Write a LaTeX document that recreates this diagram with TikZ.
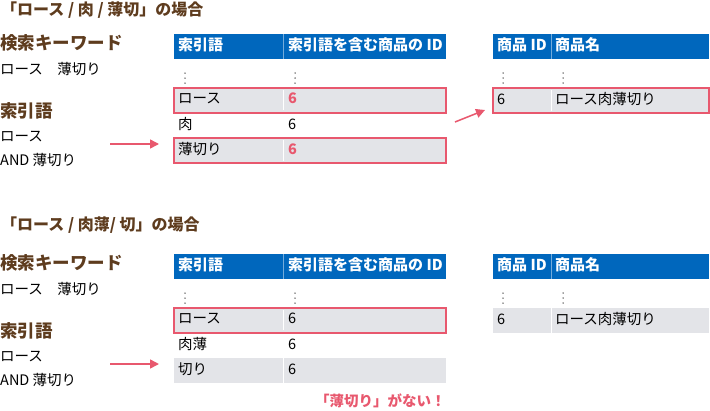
\documentclass[tikz,border=0pt]{standalone}
\usepackage{fontspec}
\setmainfont{Noto Sans CJK JP}
\usetikzlibrary{arrows.meta}

\definecolor{hbrown}{RGB}{94,60,30}
\definecolor{hblue}{RGB}{0,103,189}
\definecolor{hpink}{RGB}{232,88,110}
\definecolor{hgray}{RGB}{227,228,232}

\tikzset{
  txt/.style={anchor=west,inner sep=0pt,text height=.88em,text depth=.12em,
    font=\fontsize{14.5}{14.5}\selectfont},
  big/.style={txt,text=hbrown,font=\fontsize{17.5}{17.5}\selectfont\bfseries},
  ttl/.style={txt,text=hbrown,font=\fontsize{16}{16}\selectfont\bfseries},
  hd/.style={txt,text=white,font=\fontsize{15}{15}\selectfont\bfseries},
  num/.style={txt,text=hpink,font=\fontsize{14.5}{14.5}\selectfont\bfseries},
  cellbox/.style={anchor=north west,inner sep=0pt,outer sep=0pt,minimum height=25},
  headbox/.style={cellbox,fill=hblue},
  grayrow/.style={cellbox,fill=hgray},
  hit/.style={draw=hpink,line width=1.8pt},
  arr/.style={hpink,line width=1.5pt,-{Triangle[length=9pt,width=9pt]}},
}

\begin{document}
\begin{tikzpicture}[x=1pt,y=-1pt]
  \useasboundingbox (0,0) rectangle (710,410);

  %% case 1
  \node[ttl] (c1) at (1,12) {「ロース / 肉 / 薄切」の場合};
  \node[big] (kw1) at (0,46) {検索キーワード};
  \node[txt] (kw1a) at (0,71) {ロース　薄切り};
  \node[big] (ix1) at (0,114) {索引語};
  \node[txt] (ix1a) at (0,138) {ロース};
  \node[txt] (ix1b) at (0,162) {AND 薄切り};
  \coordinate (a1s) at (110,144);
  \coordinate (a1e) at (159,144);
  \draw[arr] (a1s) -- (a1e);

  % index table
  \node[headbox,minimum width=272] (t1h) at (174,34) {};
  \draw[hblue!55!white,line width=.8pt] (283,34) -- (283,59);
  \node[hd] (t1ha) at (178,46.5) {索引語};
  \node[hd] (t1hb) at (288,46.5) {索引語を含む商品の ID};
  \foreach \x in {185,295}
    \foreach \y in {73,78,83}
      \fill[black!75] (\x,\y) circle (.75);
  \node[grayrow,hit,minimum width=272] (t1r1) at (174,88) {};
  \node[grayrow,hit,minimum width=272] (t1r3) at (174,138) {};
  \draw[white,line width=.8pt] (283,90) -- (283,110) (283,140) -- (283,161);
  \node[txt] (t1r1a) at (178,100) {ロース};
  \node[num] (t1r1b) at (288,100) {6};
  \node[txt] (t1r2a) at (178,125.5) {肉};
  \node[txt] (t1r2b) at (288,125.5) {6};
  \node[txt] (t1r3a) at (178,150.5) {薄切り};
  \node[num] (t1r3b) at (288,150.5) {6};

  \coordinate (a2s) at (455,122);
  \coordinate (a2e) at (485,110);
  \draw[arr] (a2s) -- (a2e);

  % item table
  \node[headbox,minimum width=216] (t2h) at (493,34) {};
  \draw[hblue!55!white,line width=.8pt] (551,34) -- (551,59);
  \node[hd] (t2ha) at (497,46.5) {商品 ID};
  \node[hd] (t2hb) at (555,46.5) {商品名};
  \foreach \x in {503,563}
    \foreach \y in {73,78,83}
      \fill[black!75] (\x,\y) circle (.75);
  \node[grayrow,hit,minimum width=216] (t2r1) at (493,88) {};
  \draw[white,line width=.8pt] (551,90) -- (551,111);
  \node[txt] (t2r1a) at (497,100.5) {6};
  \node[txt] (t2r1b) at (555,100.5) {ロース肉薄切り};

  %% case 2
  \node[ttl] (c2) at (1,227) {「ロース / 肉薄/ 切」の場合};
  \node[big] (kw2) at (0,266) {検索キーワード};
  \node[txt] (kw2a) at (0,291) {ロース　薄切り};
  \node[big] (ix2) at (0,334) {索引語};
  \node[txt] (ix2a) at (0,358) {ロース};
  \node[txt] (ix2b) at (0,382) {AND 薄切り};
  \coordinate (a3s) at (110,364);
  \coordinate (a3e) at (159,364);
  \draw[arr] (a3s) -- (a3e);

  % index table
  \node[headbox,minimum width=272] (t3h) at (174,254) {};
  \draw[hblue!55!white,line width=.8pt] (283,254) -- (283,279);
  \node[hd] (t3ha) at (178,266.5) {索引語};
  \node[hd] (t3hb) at (288,266.5) {索引語を含む商品の ID};
  \foreach \x in {185,295}
    \foreach \y in {293,298,303}
      \fill[black!75] (\x,\y) circle (.75);
  \node[grayrow,hit,minimum width=272] (t3r1) at (174,308) {};
  \node[grayrow,minimum width=272] (t3r3) at (174,358) {};
  \draw[white,line width=.8pt] (283,310) -- (283,330) (283,358) -- (283,383);
  \node[txt] (t3r1a) at (178,320) {ロース};
  \node[txt] (t3r1b) at (288,320) {6};
  \node[txt] (t3r2a) at (178,345.5) {肉薄};
  \node[txt] (t3r2b) at (288,345.5) {6};
  \node[txt] (t3r3a) at (178,370.5) {切り};
  \node[txt] (t3r3b) at (288,370.5) {6};
  \node[num] (miss) at (315,403) {「薄切り」がない！};

  % item table
  \node[headbox,minimum width=216] (t4h) at (493,254) {};
  \draw[hblue!55!white,line width=.8pt] (551,254) -- (551,279);
  \node[hd] (t4ha) at (497,266.5) {商品 ID};
  \node[hd] (t4hb) at (555,266.5) {商品名};
  \foreach \x in {503,563}
    \foreach \y in {293,298,303}
      \fill[black!75] (\x,\y) circle (.75);
  \node[grayrow,minimum width=216] (t4r1) at (493,308) {};
  \draw[white,line width=.8pt] (551,308) -- (551,333);
  \node[txt] (t4r1a) at (497,320.5) {6};
  \node[txt] (t4r1b) at (555,320.5) {ロース肉薄切り};
\end{tikzpicture}
\end{document}
